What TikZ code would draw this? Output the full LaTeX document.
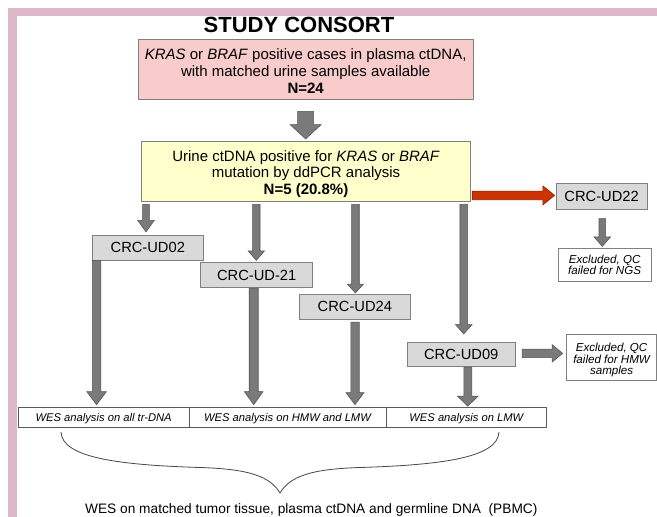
\documentclass[tikz,border=0pt]{standalone}
\usepackage{fontspec}
\setmainfont{Liberation Sans}
\usetikzlibrary{calc}
\definecolor{cFrame}{RGB}{220,184,200}
\definecolor{cPink}{RGB}{249,204,204}
\definecolor{cYellow}{RGB}{255,255,204}
\definecolor{cCrc}{RGB}{217,217,217}
\definecolor{cBoxLine}{RGB}{128,128,128}
\definecolor{cWesLine}{RGB}{90,90,90}
\definecolor{cArr}{RGB}{122,122,122}
\definecolor{cArrLine}{RGB}{85,85,85}
\definecolor{cRedArr}{RGB}{204,51,0}
\definecolor{cRedArrLine}{RGB}{150,30,0}
\definecolor{cBrace}{RGB}{70,70,70}
\newcommand\fs[2]{\fontsize{#1}{#2}\selectfont}
% vertical block arrow: style, start, end, shaft half width, head half width, head length
\newcommand\vblock[6]{\draw[#1] let \p1=#2, \p2=#3 in
  (\x1-#4pt,\y1) -- (\x1-#4pt,\y2+#6pt) -- (\x1-#5pt,\y2+#6pt) -- (\x1,\y2)
  -- (\x1+#5pt,\y2+#6pt) -- (\x1+#4pt,\y2+#6pt) -- (\x1+#4pt,\y1) -- cycle;}
% horizontal (rightwards) block arrow
\newcommand\hblock[6]{\draw[#1] let \p1=#2, \p2=#3 in
  (\x1,\y1+#4pt) -- (\x2-#6pt,\y1+#4pt) -- (\x2-#6pt,\y1+#5pt) -- (\x2,\y1)
  -- (\x2-#6pt,\y1-#5pt) -- (\x2-#6pt,\y1-#4pt) -- (\x1,\y1-#4pt) -- cycle;}
\tikzset{
  boxbase/.style={draw=cBoxLine, line width=0.8pt, inner sep=0pt, align=center},
  pinkbox/.style={boxbase, fill=cPink, font=\fs{15}{17}},
  yellowbox/.style={boxbase, fill=cYellow, font=\fs{15}{16.5}},
  crcbox/.style={boxbase, fill=cCrc, font=\fs{14.7}{17}},
  notebox/.style={boxbase, fill=white, font=\fs{11.6}{11.5}\itshape},
  wescell/.style={draw=cWesLine, line width=0.7pt, fill=white, inner sep=0pt,
    minimum height=20pt, text depth=0pt, font=\fs{11.2}{13}\itshape},
  garrow/.style={fill=cArr, draw=cArrLine, line width=0.6pt, line join=miter},
  redarrow/.style={fill=cRedArr, draw=cRedArrLine, line width=0.6pt, line join=miter},
  bracestyle/.style={draw=cBrace, line width=0.8pt}
}
\begin{document}
\begin{tikzpicture}[x=1pt,y=-1pt]
\useasboundingbox (0,0) rectangle (657,517);
% frame
\fill[cFrame] (8,8) rectangle (657,517);
\fill[white] (16.7,16) rectangle (657,517);
% title
\node[anchor=base, font=\fs{22}{26}\bfseries, inner sep=0pt] (title) at (299,32.3) {STUDY CONSORT};
% main boxes
\node[pinkbox, minimum width=335.3pt, minimum height=60.2pt] (red) at (305.65,69.4)
  {\rule{0pt}{13.8pt}\textit{KRAS} or \textit{BRAF} positive cases in plasma ctDNA,\\
   with matched urine samples available\\ \textbf{N=24}};
\node[yellowbox, minimum width=328.6pt, minimum height=60pt] (yel) at (306,171)
  {\rule{0pt}{16.2pt}Urine ctDNA positive for \textit{KRAS} or \textit{BRAF}\\
   mutation by ddPCR analysis\\ \textbf{N=5 (20.8\%)}};
% patient boxes
\node[crcbox, minimum width=111pt, minimum height=25pt] (ud02) at (147.8,247.5) {CRC-UD02};
\node[crcbox, minimum width=112pt, minimum height=25.4pt] (ud21) at (256.7,275) {CRC-UD-21};
\node[crcbox, minimum width=111.7pt, minimum height=24.7pt] (ud24) at (354.85,306.65) {CRC-UD24};
\node[crcbox, minimum width=107.5pt, minimum height=24.7pt] (ud09) at (461.25,354.35) {CRC-UD09};
\node[crcbox, minimum width=91.3pt, minimum height=25.7pt] (ud22) at (601.65,196.15) {CRC-UD22};
% exclusion notes
\node[notebox, minimum width=92.7pt, minimum height=33.4pt] (ngs) at (604.65,265)
  {Excluded, QC\\ failed for NGS};
\node[notebox, minimum width=89.8pt, minimum height=46.3pt] (hmw) at (611.6,357.15)
  {\rule{0pt}{14.55pt}Excluded, QC\\ failed for HMW\\ samples};
% WES row
\node[wescell, minimum width=170.7pt] (wes1) at (103.65,417) {WES analysis on all tr-DNA};
\node[wescell, minimum width=197pt] (wes2) at (287.5,417) {WES analysis on HMW and LMW};
\node[wescell, minimum width=160.7pt] (wes3) at (466.35,417) {WES analysis on LMW};
% big arrow
\vblock{garrow}{($(red.south)+(0,11.5)$)}{($(yel.north)+(0,-1.7)$)}{8}{15.5}{14.3}
% arrows from yellow box to patients
\coordinate (a02) at ($(yel.south -| ud02.north)+(-1.8,3)$);
\coordinate (a21) at ($(yel.south -| ud21.north)+(-0.4,3)$);
\coordinate (a24) at ($(yel.south -| ud24.north)+(0.6,3)$);
\coordinate (a09) at ($(yel.south -| ud09.north)+(2.5,3)$);
\vblock{garrow}{(a02)}{($(ud02.north)+(0,-2.7)$)}{3.4}{8.3}{11.6}
\vblock{garrow}{(a21)}{($(ud21.north)+(0,-1.6)$)}{3.7}{8.2}{9.5}
\vblock{garrow}{(a24)}{($(ud24.north)+(0,-1)$)}{3.8}{8}{8.8}
\vblock{garrow}{(a09)}{($(ud09.north)+(0,-7.7)$)}{3.8}{8.3}{9.3}
% arrows from patients to WES row
\coordinate (b02) at ($(ud02.south west)+(4.7,0)$);
\coordinate (b21) at ($(ud21.south)+(-3,0)$);
\coordinate (b24) at ($(ud24.south)+(0.15,2.7)$);
\coordinate (b09) at ($(ud09.south)+(6.55,0)$);
\vblock{garrow}{(b02)}{($(wes1.north)+(0,-2)$)}{4.2}{9.8}{13}
\vblock{garrow}{(b21)}{($(wes2.north)+(0,-2)$)}{4.5}{9.3}{13}
\vblock{garrow}{(b24)}{($(wes2.north)+(0,-2)$)}{4.2}{9}{12}
\vblock{garrow}{(b09)}{($(wes3.north)+(0,-0.5)$)}{3.9}{10.3}{10}
% excluded branch
\coordinate (b22) at ($(ud22.south)+(0.65,9.3)$);
\vblock{garrow}{(b22)}{($(ngs.north)+(0,-1.6)$)}{3.3}{8.3}{9.4}
\coordinate (r0) at ($(yel.south east)+(1.5,-6)$);
\hblock{redarrow}{(r0)}{($(ud22.west)+(-1,0)$)}{4.3}{9.5}{11.7}
\coordinate (h0) at ($(ud09.east)+(6.7,-1)$);
\hblock{garrow}{(h0)}{($(hmw.west)+(-3.7,0)$)}{4.2}{8.7}{10.5}
% brace
\draw[bracestyle] (61,432) .. controls (62,458) and (120,465) .. (200,467.5)
  .. controls (248,469) and (270,476) .. (280,493)
  .. controls (290,476) and (312,469) .. (360,467.5)
  .. controls (440,465) and (498,458) .. (499,432);
% bottom text
\node[anchor=base, font=\fs{13.7}{16}, inner sep=0pt] (bottom) at (311.3,513.6)
  {WES on matched tumor tissue, plasma ctDNA and germline DNA\ \ (PBMC)};
\end{tikzpicture}
\end{document}
